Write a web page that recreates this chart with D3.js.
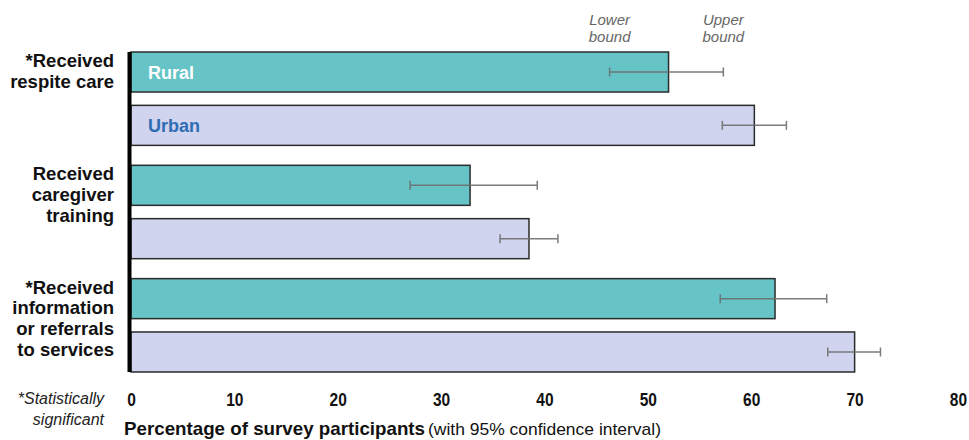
<!DOCTYPE html>
<html><head><meta charset="utf-8">
<script src="https://cdn.jsdelivr.net/npm/d3@7"></script>
<style>body{margin:0;background:#fff}svg{display:block}</style>
</head><body><svg id="c" width="969" height="440"></svg>
<script>
const categories = [["*Received","respite care"],["Received","caregiver","training"],["*Received","information","or referrals","to services"]];
const groups = ["Rural","Urban"];
const values = [[52,60.3],[32.8,38.5],[62.3,70]];
const lower = [[46.3,57.2],[27.0,35.7],[57.0,67.4]];
const upper = [[57.3,63.4],[39.3,41.3],[67.3,72.5]];
const ticks = [0,10,20,30,40,50,60,70,80];
const colors = {Rural:"#66c4c6",Urban:"#d0d4ee"};

const svg = d3.select("#c");
const x = d3.scaleLinear().domain([0,80]).range([131,958]);
const yG = d3.scaleBand().domain(d3.range(3)).range([52,372]).paddingInner(0.176).paddingOuter(0);
const yS = d3.scaleBand().domain(groups).range([0,yG.bandwidth()]).paddingInner(0.25);
const sans = "'Liberation Sans',Arial,sans-serif";

categories.forEach((cat,i)=>{
  const g = svg.append("g").attr("transform",`translate(0,${yG(i)})`);
  groups.forEach((s,j)=>{
    g.append("rect").attr("x",x(0)).attr("y",yS(s)).attr("width",x(values[i][j])-x(0)).attr("height",yS.bandwidth())
      .attr("fill",colors[s]).attr("stroke","#2b2b2b").attr("stroke-width",1.5);
    const cy = yS(s)+yS.bandwidth()/2;
    const eg = g.append("g").attr("stroke","#6e6e6e").attr("stroke-width",1.5).attr("opacity",0.9);
    eg.append("line").attr("x1",x(lower[i][j])).attr("x2",x(upper[i][j])).attr("y1",cy).attr("y2",cy);
    eg.append("line").attr("x1",x(lower[i][j])).attr("x2",x(lower[i][j])).attr("y1",cy-4.5).attr("y2",cy+4.5);
    eg.append("line").attr("x1",x(upper[i][j])).attr("x2",x(upper[i][j])).attr("y1",cy-4.5).attr("y2",cy+4.5);
  });
  const lh = 20.8;
  const t = g.append("text").attr("text-anchor","end").attr("font-family",sans).attr("font-weight","bold").attr("font-size",18.5).attr("fill","#111");
  cat.forEach((l,k)=>t.append("tspan").attr("x",114).attr("y",15+k*lh).text(l));
});

// series labels
svg.append("text").attr("x",148).attr("y",yG(0)+yS("Rural")+yS.bandwidth()/2+6.5).attr("font-family",sans).attr("font-weight","bold").attr("font-size",18).attr("fill","#fff").text("Rural");
svg.append("text").attr("x",148).attr("y",yG(0)+yS("Urban")+yS.bandwidth()/2+6.5).attr("font-family",sans).attr("font-weight","bold").attr("font-size",18).attr("fill","#2e6db4").text("Urban");

// bound annotations
[["Lower","bound",lower[0][0]],["Upper","bound",upper[0][0]]].forEach(d=>{
  const t = svg.append("text").attr("text-anchor","middle").attr("font-family",sans).attr("font-style","italic").attr("font-size",15).attr("fill","#666");
  t.append("tspan").attr("x",x(d[2])).attr("y",25).text(d[0]);
  t.append("tspan").attr("x",x(d[2])).attr("y",42).text(d[1]);
});

// y axis line
svg.append("line").attr("x1",x(0)-1.5).attr("x2",x(0)-1.5).attr("y1",52).attr("y2",372).attr("stroke","#000").attr("stroke-width",4);

// x axis
const ax = svg.append("g").attr("transform","translate(0,392)").call(d3.axisBottom(x).tickValues(ticks).tickSize(0).tickPadding(0));
ax.select(".domain").remove();
ax.selectAll("text").attr("font-family",sans).attr("font-weight","bold").attr("font-size",18.5).attr("fill","#111").attr("y",13.5).attr("dy",0).attr("transform","scale(0.84,1)");

svg.append("text").attr("text-anchor","end").attr("font-family",sans).attr("font-style","italic").attr("font-size",16).attr("fill","#222")
  .selectAll("tspan").data(["*Statistically","significant"]).join("tspan").attr("x",104).attr("y",(d,k)=>404+k*21).text(d=>d);

const tt = svg.append("text").attr("x",124).attr("y",435).attr("font-family",sans).attr("font-size",18.5).attr("fill","#111");
tt.append("tspan").attr("font-weight","bold").attr("textLength",301).attr("lengthAdjust","spacingAndGlyphs").text("Percentage of survey participants");
tt.append("tspan").attr("x",428).attr("font-size",17).attr("textLength",233).attr("lengthAdjust","spacingAndGlyphs").text("(with 95% confidence interval)");
</script></body></html>
